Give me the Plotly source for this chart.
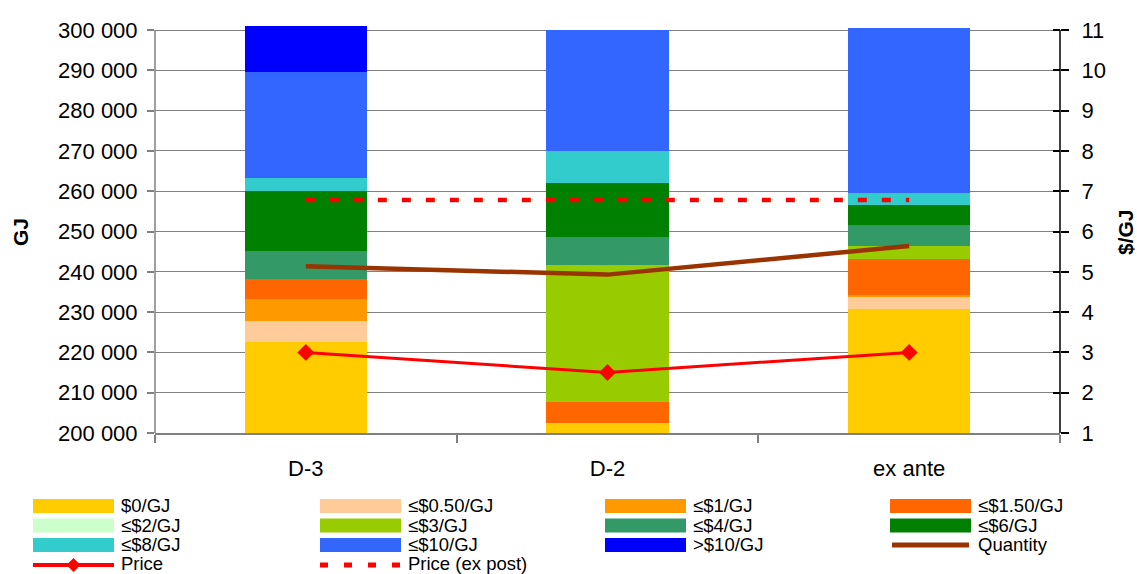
import plotly.graph_objects as go

# ---- data -------------------------------------------------------------
categories = ["D-3", "D-2", "ex ante"]

band_names = ["$0/GJ", "≤$0.50/GJ", "≤$1/GJ", "≤$1.50/GJ", "≤$2/GJ", "≤$3/GJ",
              "≤$4/GJ", "≤$6/GJ", "≤$8/GJ", "≤$10/GJ", ">$10/GJ"]
band_colors = ["#FFCC00", "#FFCC99", "#FF9900", "#FF6600", "#CCFFCC", "#99CC00",
               "#339966", "#008000", "#33CCCC", "#3366FF", "#0000FF"]

gj_0 = [222600, 202500, 230800]
gj_050 = [5200, 0, 2950]
gj_1 = [5450, 0, 500]
gj_150 = [4950, 5200, 8950]
gj_2 = [0, 0, 0]
gj_3 = [0, 34000, 3200]
gj_4 = [7050, 6950, 5200]
gj_6 = [14800, 13350, 5000]
gj_8 = [3300, 8000, 2950]
gj_10 = [26300, 30000, 40950]
gj_over10 = [11350, 0, 0]

quantity = [241400, 239300, 246400]
price = [3.0, 2.5, 3.0]
price_ex_post = [6.78, 6.78, 6.78]

left_ticks = list(range(200000, 300001, 10000))
right_ticks = list(range(1, 12))

band_values = [gj_0, gj_050, gj_1, gj_150, gj_2, gj_3, gj_4, gj_6, gj_8, gj_10, gj_over10]

# ---- geometry helpers (plot area in pixels) ---------------------------
W, H = 1137, 574
PL, PR, PT, PB = 155, 1060, 25, 433
def fx(px):
    return (px - PL) / (PR - PL)
def fy(py):
    return (PB - py) / (PB - PT)

FONT = "Liberation Sans, Arial, sans-serif"
GRID = "#808080"

fig = go.Figure()

for name, color, vals in zip(band_names, band_colors, band_values):
    fig.add_trace(go.Bar(x=categories, y=vals, name=name, marker_color=color,
                         marker_line_width=0, showlegend=False))

fig.add_trace(go.Scatter(x=categories, y=quantity, name="Quantity", mode="lines",
                         line=dict(color="#993300", width=4.5), showlegend=False))
fig.add_trace(go.Scatter(x=categories, y=price_ex_post, name="Price (ex post)", mode="lines",
                         line=dict(color="#FF0000", width=4.5, dash="9px,15px"),
                         yaxis="y2", showlegend=False))
fig.add_trace(go.Scatter(x=categories, y=price, name="Price", mode="lines+markers",
                         line=dict(color="#FF0000", width=3),
                         marker=dict(symbol="diamond", size=13, color="#FF0000"),
                         yaxis="y2", showlegend=False))
# invisible helper for the inward half of the right-axis cross ticks
fig.add_trace(go.Scatter(x=categories, y=price, yaxis="y3", mode="none",
                         hoverinfo="skip", showlegend=False))

# ---- legend drawn as shapes + text, four columns -----------------------
legend_items = [(n, "bar", c) for n, c in zip(band_names, band_colors)]
legend_items += [("Quantity", "qty", "#993300"), ("Price", "price", "#FF0000"),
                 ("Price (ex post)", "expost", "#FF0000")]
col_x = [33, 320, 605, 890]
row_y = [506, 525.5, 545, 565]
text_y = [505.5, 525, 544.5, 563]
sym_w = 81

shapes = []
annotations = []
for i, (label, kind, color) in enumerate(legend_items):
    r, c = divmod(i, 4)
    x0 = col_x[c]
    yc = row_y[r]
    if kind == "bar":
        shapes.append(dict(type="rect", xref="paper", yref="paper",
                           x0=fx(x0), x1=fx(x0 + sym_w), y0=fy(yc + 7), y1=fy(yc - 7),
                           fillcolor=color, line=dict(width=0)))
    elif kind == "qty":
        shapes.append(dict(type="line", xref="paper", yref="paper",
                           x0=fx(x0 + 2), x1=fx(x0 + sym_w - 2), y0=fy(yc), y1=fy(yc),
                           line=dict(color=color, width=5)))
    elif kind == "price":
        shapes.append(dict(type="line", xref="paper", yref="paper",
                           x0=fx(x0), x1=fx(x0 + sym_w), y0=fy(yc), y1=fy(yc),
                           line=dict(color=color, width=4)))
        shapes.append(dict(type="path", xref="paper", yref="paper",
                           xsizemode="pixel", ysizemode="pixel",
                           xanchor=fx(x0 + sym_w / 2), yanchor=fy(yc),
                           path="M0,7 L7,0 L0,-7 L-7,0 Z",
                           fillcolor=color, line=dict(width=0)))
    else:
        shapes.append(dict(type="line", xref="paper", yref="paper",
                           x0=fx(x0), x1=fx(x0 + sym_w), y0=fy(yc), y1=fy(yc),
                           line=dict(color=color, width=5, dash="8px,16px")))
    annotations.append(dict(text=label, xref="paper", yref="paper",
                            x=fx(x0 + sym_w + 6), y=fy(text_y[r]), xanchor="left", yanchor="middle",
                            showarrow=False, borderpad=0,
                            font=dict(family=FONT, size=18.5, color="#000000")))

# axis lines
shapes.append(dict(type="line", xref="paper", yref="y", x0=0, x1=0,
                   y0=left_ticks[0], y1=left_ticks[-1], line=dict(color=GRID, width=1.5)))
shapes.append(dict(type="line", xref="paper", yref="y", x0=1, x1=1,
                   y0=left_ticks[0], y1=left_ticks[-1], line=dict(color="#000000", width=1.5)))

# axis titles
annotations.append(dict(text="<b>GJ</b>", xref="paper", yref="paper", x=fx(20), y=fy(232),
                        textangle=-90, showarrow=False, xanchor="center", yanchor="middle",
                        font=dict(family=FONT, size=21, color="#000000")))
annotations.append(dict(text="<b>$/GJ</b>", xref="paper", yref="paper", x=fx(1125), y=fy(232),
                        textangle=-90, showarrow=False, xanchor="center", yanchor="middle",
                        font=dict(family=FONT, size=21, color="#000000")))

y_top = left_ticks[-1] + (left_ticks[-1] - left_ticks[0]) * (5 / 403)
y2_top = right_ticks[-1] + (right_ticks[-1] - right_ticks[0]) * (5 / 403)

fig.update_layout(
    width=W, height=H,
    margin=dict(l=PL, r=W - PR, t=PT, b=H - PB),
    paper_bgcolor="#FFFFFF", plot_bgcolor="#FFFFFF",
    barmode="stack", bargap=0.595,
    separators=". ",
    font=dict(family=FONT, size=20, color="#000000"),
    xaxis=dict(type="category", range=[-0.5, 2.5], showline=True, linecolor=GRID, linewidth=1.5,
               ticks="outside", tickson="boundaries", ticklen=8, tickcolor=GRID, tickwidth=1.5,
               ticklabelstandoff=15, showgrid=False, tickfont=dict(size=22)),
    yaxis=dict(range=[left_ticks[0], y_top], tickvals=left_ticks, tickformat=",d",
               showgrid=True, gridcolor=GRID, gridwidth=1, showline=False, zeroline=False,
               ticks="outside", ticklen=7, tickcolor=GRID, tickwidth=1.5,
               ticklabelstandoff=5, tickfont=dict(size=22)),
    yaxis2=dict(range=[right_ticks[0], y2_top], tickvals=right_ticks, overlaying="y", side="right",
                showgrid=False, zeroline=False, showline=False,
                ticks="outside", ticklen=8, tickcolor="#000000", tickwidth=1.5,
                ticklabelstandoff=8, tickfont=dict(size=22)),
    yaxis3=dict(range=[right_ticks[0], y2_top], tickvals=right_ticks, overlaying="y", side="right",
                showgrid=False, zeroline=False, showline=False, showticklabels=False,
                ticks="inside", ticklen=7, tickcolor="#000000", tickwidth=1.5),
    shapes=shapes,
    annotations=annotations,
    hovermode=False,
)

fig.write_html("out.html")
